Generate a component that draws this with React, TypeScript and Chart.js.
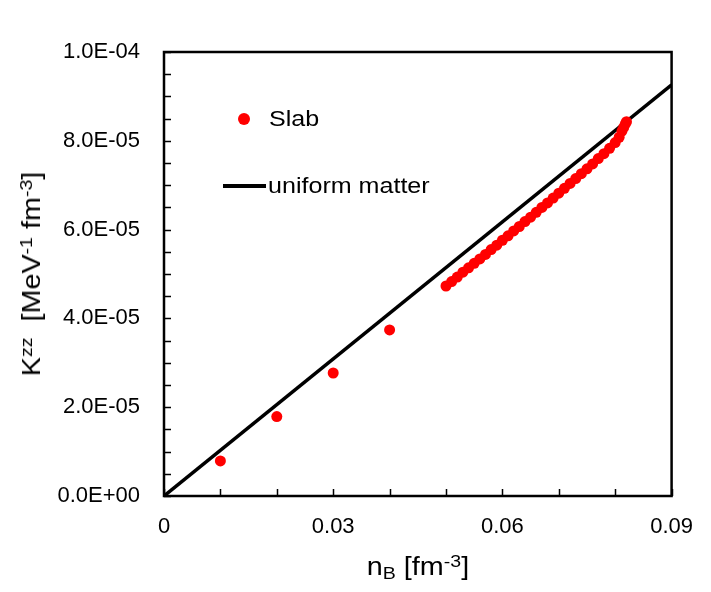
import React, { useEffect, useRef } from "react";
import { Chart, registerables } from "chart.js";

Chart.register(...registerables);

// ---- data ----
const slabX = [
  0.01, 0.02, 0.03, 0.04,
  0.05, 0.051, 0.052, 0.053, 0.054, 0.055, 0.056, 0.057, 0.058, 0.059,
  0.06, 0.061, 0.062, 0.063, 0.064, 0.065, 0.066, 0.067, 0.068, 0.069,
  0.07, 0.071, 0.072, 0.073, 0.074, 0.075, 0.076, 0.077, 0.078, 0.079,
  0.08, 0.0807, 0.0812, 0.0815, 0.0818, 0.082,
];
const slabY = [
  7.9e-6, 17.9e-6, 27.7e-6, 37.4e-6,
  47.3e-6, 48.3e-6, 49.3e-6, 50.4e-6, 51.4e-6, 52.4e-6, 53.4e-6, 54.4e-6, 55.5e-6, 56.5e-6,
  57.6e-6, 58.6e-6, 59.7e-6, 60.7e-6, 61.8e-6, 62.8e-6, 63.9e-6, 65.0e-6, 66.0e-6, 67.1e-6,
  68.2e-6, 69.3e-6, 70.4e-6, 71.5e-6, 72.6e-6, 73.7e-6, 74.8e-6, 76.0e-6, 77.1e-6, 78.3e-6,
  79.6e-6, 80.8e-6, 82.2e-6, 83.0e-6, 83.8e-6, 84.3e-6,
];
const uniformX = [0, 0.09];
const uniformY = [0, 9.26e-5];

const xTicks = [0, 0.01, 0.02, 0.03, 0.04, 0.05, 0.06, 0.07, 0.08, 0.09];
const xTickLabels = ["0", "", "", "0.03", "", "", "0.06", "", "", "0.09"];
const yTicks = [
  0, 5e-6, 1e-5, 1.5e-5, 2e-5, 2.5e-5, 3e-5, 3.5e-5, 4e-5, 4.5e-5, 5e-5,
  5.5e-5, 6e-5, 6.5e-5, 7e-5, 7.5e-5, 8e-5, 8.5e-5, 9e-5, 9.5e-5, 1e-4,
];
const yTickLabels = [
  "0.0E+00", "", "", "", "2.0E-05", "", "", "", "4.0E-05", "", "",
  "", "6.0E-05", "", "", "", "8.0E-05", "", "", "", "1.0E-04",
];

const FONT = "'Liberation Sans', Arial, sans-serif";

const framePlugin = {
  id: "frameTicks",
  afterDraw(chart: any) {
    const { ctx, chartArea, scales } = chart;
    const { left, right, top, bottom } = chartArea;
    ctx.save();
    ctx.strokeStyle = "#000";
    ctx.lineWidth = 1.5;
    ctx.beginPath();
    xTicks.forEach((v) => {
      const px = Math.round(scales.x.getPixelForValue(v)) + 0.5;
      ctx.moveTo(px, bottom);
      ctx.lineTo(px, bottom - 7);
    });
    yTicks.forEach((v) => {
      const py = Math.round(scales.y.getPixelForValue(v)) + 0.5;
      ctx.moveTo(left, py);
      ctx.lineTo(left + 7, py);
    });
    ctx.stroke();
    ctx.lineWidth = 2.5;
    ctx.strokeRect(left, top, right - left, bottom - top);
    ctx.restore();
  },
};

export default function App() {
  const ref = useRef<HTMLCanvasElement | null>(null);

  useEffect(() => {
    document.body.style.margin = "0";
    const canvas = ref.current;
    if (!canvas) return;
    const chart = new Chart(canvas, {
      type: "scatter",
      data: {
        datasets: [
          {
            label: "uniform matter",
            data: uniformX.map((x, i) => ({ x, y: uniformY[i] })),
            showLine: true,
            borderColor: "#000",
            borderWidth: 3.5,
            pointRadius: 0,
            order: 2,
          },
          {
            label: "Slab",
            data: slabX.map((x, i) => ({ x, y: slabY[i] })),
            backgroundColor: "#ff0000",
            borderWidth: 0,
            pointRadius: 5.5,
            order: 1,
          },
        ],
      },
      options: {
        animation: false,
        responsive: false,
        maintainAspectRatio: false,
        layout: { padding: { left: 0, top: 52, right: 39, bottom: 0 } },
        plugins: { legend: { display: false }, tooltip: { enabled: false } },
        scales: {
          x: {
            type: "linear",
            min: 0,
            max: 0.09,
            afterBuildTicks: (scale: any) => {
              scale.ticks = xTicks.map((v) => ({ value: v }));
            },
            afterFit: (scale: any) => {
              scale.height = 96;
            },
            ticks: {
              autoSkip: false,
              maxRotation: 0,
              padding: 18,
              color: "#000",
              font: { family: FONT, size: 22 },
              callback: (_v: any, i: number) => xTickLabels[i],
            },
            grid: { display: false, drawTicks: false },
            border: { display: false },
          },
          y: {
            type: "linear",
            min: 0,
            max: 1e-4,
            afterBuildTicks: (scale: any) => {
              scale.ticks = yTicks.map((v) => ({ value: v }));
            },
            afterFit: (scale: any) => {
              scale.width = 164;
            },
            ticks: {
              autoSkip: false,
              padding: 24,
              color: "#000",
              font: { family: FONT, size: 22 },
              callback: (_v: any, i: number) => yTickLabels[i],
            },
            grid: { display: false, drawTicks: false },
            border: { display: false },
          },
        },
      },
      plugins: [framePlugin],
    } as any);
    return () => chart.destroy();
  }, []);

  const sup: React.CSSProperties = { fontSize: "0.68em", verticalAlign: "0.45em", lineHeight: 0 };
  const sub: React.CSSProperties = { fontSize: "0.68em", verticalAlign: "-0.25em", lineHeight: 0 };

  return (
    <div style={{ position: "absolute", left: 0, top: 0, width: 711, height: 592, background: "#fff", fontFamily: FONT }}>
      <canvas ref={ref} width={711} height={592} style={{ position: "absolute", left: 0, top: 0, width: 711, height: 592 }} />
      {/* legend */}
      <div style={{ position: "absolute", left: 238, top: 113, width: 12, height: 12, borderRadius: "50%", background: "#ff0000" }} />
      <div style={{ position: "absolute", left: 269, top: 105, height: 28, lineHeight: "28px", fontSize: 22, color: "#000", whiteSpace: "nowrap", transform: "scaleX(1.14)", transformOrigin: "left center" }}>Slab</div>
      <div style={{ position: "absolute", left: 223, top: 184, width: 43, height: 4, background: "#000" }} />
      <div style={{ position: "absolute", left: 268, top: 172, height: 28, lineHeight: "28px", fontSize: 22, color: "#000", whiteSpace: "nowrap", transform: "scaleX(1.14)", transformOrigin: "left center" }}>uniform matter</div>
      {/* x title */}
      <div style={{ position: "absolute", left: 268, top: 551, width: 300, height: 30, lineHeight: "30px", textAlign: "center", fontSize: 25, color: "#000", whiteSpace: "nowrap", transform: "scaleX(1.15)" }}>
        n<span style={sub}>B</span> [fm<span style={sup}>-3</span>]
      </div>
      {/* y title */}
      <div style={{ position: "absolute", left: 31 - 170, top: 274 - 15, width: 340, height: 30, lineHeight: "30px", textAlign: "center", fontSize: 25, color: "#000", whiteSpace: "pre", transform: "rotate(-90deg) scaleX(1.15)", transformOrigin: "center center" }}>
        K<span style={sup}>zz</span>{"  "}[MeV<span style={sup}>-1</span> fm<span style={sup}>-3</span>]
      </div>
    </div>
  );
}
